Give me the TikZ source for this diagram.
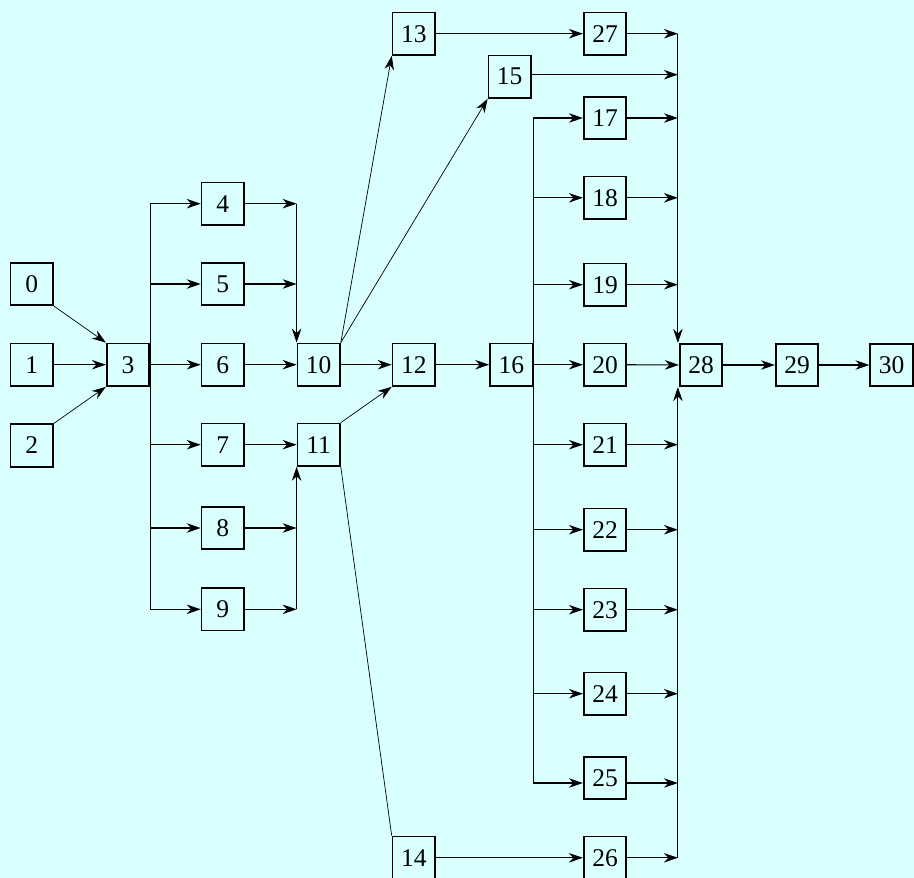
\documentclass[tikz,border=0pt]{standalone}
\usepackage{fontspec}
\setmainfont{Liberation Serif}
\usetikzlibrary{arrows.meta,calc}
\definecolor{bgcyan}{RGB}{217,255,255}
\begin{document}
\begin{tikzpicture}[x=1pt,y=-1pt,
  box/.style={draw, line width=1.7pt, minimum width=42.5pt, minimum height=42.5pt, inner sep=0pt, font=\fontsize{25.5}{27}\selectfont},
  conn/.style={line width=1.1pt},
  diag/.style={line width=0.7pt},
  arr/.style={-{Stealth[length=14pt,width=9.5pt,inset=4.5pt]}},
  darr/.style={-{Stealth[length=14pt,width=9.5pt,inset=4.5pt]}}]
\fill[bgcyan] (0,0) rectangle (914,878);
\useasboundingbox (0,0) rectangle (914,878);
% nodes
\node[box] (n0) at (31.8,284) {0};
\node[box] (n1) at (31.8,364.7) {1};
\node[box] (n2) at (31.8,445.5) {2};
\node[box] (n3) at (128,364.7) {3};
\node[box] (n4) at (222.8,203.7) {4};
\node[box] (n5) at (222.8,284) {5};
\node[box] (n6) at (222.8,364.7) {6};
\node[box] (n7) at (222.8,444.7) {7};
\node[box] (n8) at (222.8,528) {8};
\node[box] (n9) at (222.8,609.3) {9};
\node[box] (n10) at (318.7,364.7) {10};
\node[box] (n11) at (318.7,444.7) {11};
\node[box] (n12) at (413.8,364.7) {12};
\node[box] (n13) at (413.8,33.7) {13};
\node[box] (n14) at (413.8,857.8) {14};
\node[box] (n15) at (509.7,76.7) {15};
\node[box] (n16) at (511.3,364.7) {16};
\node[box] (n17) at (605,118) {17};
\node[box] (n18) at (605,197.8) {18};
\node[box] (n19) at (605,284.7) {19};
\node[box] (n20) at (605,364.7) {20};
\node[box] (n21) at (605,444.7) {21};
\node[box] (n22) at (605,529.7) {22};
\node[box] (n23) at (605,609.7) {23};
\node[box] (n24) at (605,693.7) {24};
\node[box] (n25) at (605,778) {25};
\node[box] (n26) at (605,857.8) {26};
\node[box] (n27) at (605,33.7) {27};
\node[box] (n28) at (701,365) {28};
\node[box] (n29) at (797,365) {29};
\node[box] (n30) at (891.5,365) {30};
% join points
\coordinate (j4) at (n10.west |- n4);
\coordinate (j5) at (n10.west |- n5);
\coordinate (j8) at (n11.west |- n8);
\coordinate (j9) at (n11.west |- n9);
\coordinate (k25) at ($(n16.east |- n25)+(0,5)$);
\coordinate (r27) at ($(n28.west |- n27)+(-1,0)$);
\coordinate (r15) at ($(n28.west |- n15)+(-1,-2)$);
\coordinate (r17) at ($(n28.west |- n17)+(-1,0)$);
\coordinate (r18) at ($(n28.west |- n18)+(-1,0)$);
\coordinate (r19) at ($(n28.west |- n19)+(-1,0)$);
\coordinate (r21) at ($(n28.west |- n21)+(-1,0)$);
\coordinate (r22) at ($(n28.west |- n22)+(-1,0)$);
\coordinate (r23) at ($(n28.west |- n23)+(-1,0)$);
\coordinate (r24) at ($(n28.west |- n24)+(-1,0)$);
\coordinate (r25) at ($(n28.west |- n25)+(-1,5)$);
\coordinate (r26) at ($(n28.west |- n26)+(-1,0)$);
\coordinate (t28) at ($(n28.north west)+(-1,0)$);
\coordinate (b28) at ($(n28.south west)+(-1,0)$);
% left part
\draw[diag,darr] (n0.south east) -- (n3.north west);
\draw[conn,arr] (n1) -- (n3);
\draw[diag,darr] (n2.north east) -- (n3.south west);
\draw[conn] (n3.east |- n4) -- (n3.east |- n9);
\foreach \k in {4,5,7,8,9} {\draw[conn,arr] (n3.east |- n\k) -- (n\k);}
\draw[conn,arr] (n3) -- (n6);
\draw[conn,arr] (n4) -- (j4);
\draw[conn,arr] (n5) -- (j5);
\draw[conn,arr] (j4) -- (n10.north west);
\draw[conn,arr] (n6) -- (n10);
\draw[conn,arr] (n7) -- (n11);
\draw[conn,arr] (n8) -- (j8);
\draw[conn,arr] (n9) -- (j9);
\draw[conn,arr] (j9) -- (n11.south west);
% middle
\draw[diag,darr] (n10.north east) -- (n13.south west);
\draw[diag,darr] (n10.north east) -- (n15.south west);
\draw[conn,arr] (n10) -- (n12);
\draw[diag,darr] (n11.north east) -- (n12.south west);
\draw[diag] (n11.south east) -- (n14.north west);
\draw[conn,arr] (n12) -- (n16);
\draw[conn,arr] (n13) -- (n27);
\draw[conn,arr] (n14) -- (n26);
% 16 branches
\draw[conn] (n16.east |- n17) -- (k25);
\foreach \k in {17,18,19,21,22,23,24} {\draw[conn,arr] (n16.east |- n\k) -- (n\k);}
\draw[conn,arr] (n16) -- (n20);
\draw[conn,arr] (k25) -- ($(n25.west)+(0,5)$);
% into 28
\draw[conn,arr] (n27) -- (r27);
\draw[conn,arr] ($(n15.east)+(0,-2)$) -- (r15);
\foreach \k in {17,18,19,21,22,23,24,26} {\draw[conn,arr] (n\k) -- (r\k);}
\draw[conn,arr] ($(n25.east)+(0,5)$) -- (r25);
\draw[conn,arr] (r27) -- (t28);
\draw[conn,arr] (r26) -- (b28);
\draw[conn,arr] (n20) -- (n28);
\draw[conn,arr] (n28) -- (n29);
\draw[conn,arr] (n29) -- (n30);
\end{tikzpicture}
\end{document}
